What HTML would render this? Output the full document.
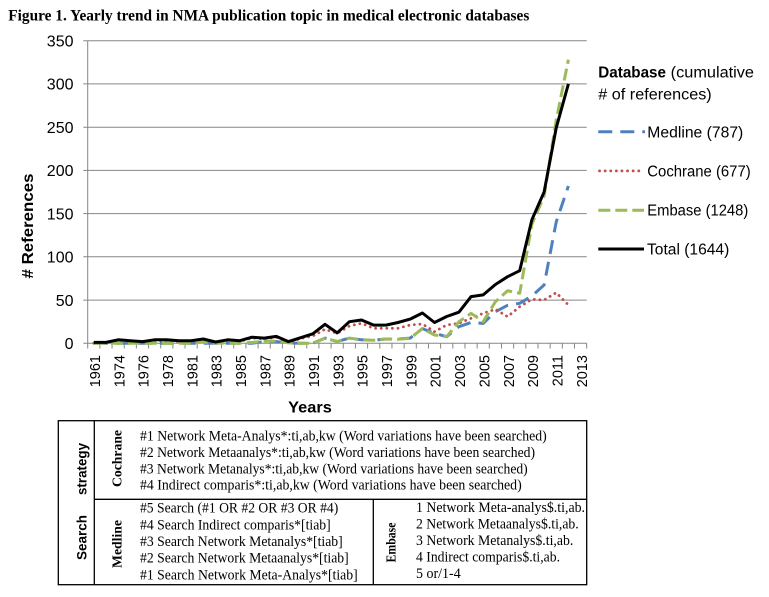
<!DOCTYPE html>
<html><head><meta charset="utf-8"><style>
html,body{margin:0;padding:0;background:#fff;}
svg{display:block;}
text{font-family:"Liberation Sans",sans-serif;}
.serif{font-family:"Liberation Serif",serif;}
</style></head><body>
<svg width="769" height="597" viewBox="0 0 769 597" xmlns="http://www.w3.org/2000/svg">
<rect width="769" height="597" fill="#fff"/>
<!-- Title -->
<text class="serif" x="8.3" y="20.5" font-size="16" font-weight="bold" textLength="521" lengthAdjust="spacingAndGlyphs" fill="#000">Figure 1. Yearly trend in NMA publication topic in medical electronic databases</text>

<!-- gridlines -->
<g stroke="#868686" stroke-width="1" fill="none">
<line x1="87.7" y1="40.7" x2="586.7" y2="40.7"/>
<line x1="87.7" y1="83.9" x2="586.7" y2="83.9"/>
<line x1="87.7" y1="127.2" x2="586.7" y2="127.2"/>
<line x1="87.7" y1="170.4" x2="586.7" y2="170.4"/>
<line x1="87.7" y1="213.6" x2="586.7" y2="213.6"/>
<line x1="87.7" y1="256.8" x2="586.7" y2="256.8"/>
<line x1="87.7" y1="300.1" x2="586.7" y2="300.1"/>
<!-- y ticks -->
<path d="M83.3 40.7H87.7M83.3 83.9H87.7M83.3 127.2H87.7M83.3 170.4H87.7M83.3 213.6H87.7M83.3 256.8H87.7M83.3 300.1H87.7M83.3 343.3H87.7"/>
<!-- axes -->
<line x1="87.7" y1="40.7" x2="87.7" y2="343.3"/>
<line x1="87.7" y1="343.3" x2="586.7" y2="343.3"/>
<!-- x ticks -->
<path d="M87.7 343.3V348.5M99.87 343.3V348.5M112.04 343.3V348.5M124.21 343.3V348.5M136.38 343.3V348.5M148.55 343.3V348.5M160.72 343.3V348.5M172.89 343.3V348.5M185.06 343.3V348.5M197.23 343.3V348.5M209.4 343.3V348.5M221.57 343.3V348.5M233.74 343.3V348.5M245.91 343.3V348.5M258.08 343.3V348.5M270.25 343.3V348.5M282.42 343.3V348.5M294.59 343.3V348.5M306.76 343.3V348.5M318.93 343.3V348.5M331.1 343.3V348.5M343.27 343.3V348.5M355.44 343.3V348.5M367.61 343.3V348.5M379.78 343.3V348.5M391.95 343.3V348.5M404.12 343.3V348.5M416.29 343.3V348.5M428.46 343.3V348.5M440.63 343.3V348.5M452.8 343.3V348.5M464.97 343.3V348.5M477.14 343.3V348.5M489.31 343.3V348.5M501.48 343.3V348.5M513.65 343.3V348.5M525.82 343.3V348.5M537.99 343.3V348.5M550.16 343.3V348.5M562.33 343.3V348.5M574.5 343.3V348.5M586.67 343.3V348.5"/>
</g>

<!-- y labels -->
<g font-size="16" text-anchor="end" fill="#000">
<text x="73.5" y="46.5">350</text>
<text x="73.5" y="89.7">300</text>
<text x="73.5" y="133">250</text>
<text x="73.5" y="176.2">200</text>
<text x="73.5" y="219.4">150</text>
<text x="73.5" y="262.6">100</text>
<text x="73.5" y="305.9">50</text>
<text x="73.5" y="349.1">0</text>
</g>

<!-- x labels -->
<g font-size="14.5" text-anchor="end" fill="#000">
<text transform="translate(100.0,355) rotate(-90)">1961</text>
<text transform="translate(124.3,355) rotate(-90)">1974</text>
<text transform="translate(148.7,355) rotate(-90)">1976</text>
<text transform="translate(173.0,355) rotate(-90)">1978</text>
<text transform="translate(197.3,355) rotate(-90)">1981</text>
<text transform="translate(221.7,355) rotate(-90)">1983</text>
<text transform="translate(246.0,355) rotate(-90)">1985</text>
<text transform="translate(270.4,355) rotate(-90)">1987</text>
<text transform="translate(294.7,355) rotate(-90)">1989</text>
<text transform="translate(319.0,355) rotate(-90)">1991</text>
<text transform="translate(343.4,355) rotate(-90)">1993</text>
<text transform="translate(367.7,355) rotate(-90)">1995</text>
<text transform="translate(392.1,355) rotate(-90)">1997</text>
<text transform="translate(416.4,355) rotate(-90)">1999</text>
<text transform="translate(440.7,355) rotate(-90)">2001</text>
<text transform="translate(465.1,355) rotate(-90)">2003</text>
<text transform="translate(489.4,355) rotate(-90)">2005</text>
<text transform="translate(513.8,355) rotate(-90)">2007</text>
<text transform="translate(538.1,355) rotate(-90)">2009</text>
<text transform="translate(562.4,355) rotate(-90)">2011</text>
<text transform="translate(586.8,355) rotate(-90)">2013</text>
</g>

<!-- axis titles -->
<text x="310" y="412.5" font-size="16" font-weight="bold" text-anchor="middle" textLength="43.7" lengthAdjust="spacingAndGlyphs">Years</text>
<text transform="translate(33,226) rotate(-90)" font-size="16" font-weight="bold" text-anchor="middle" textLength="105" lengthAdjust="spacingAndGlyphs"># References</text>

<!-- series -->
<g fill="none" stroke-linejoin="round">
<!-- Medline -->
<path stroke="#4F81BD" stroke-width="3" stroke-dasharray="14 8" d="M93.8,343.3 L106.0,343.3 L118.1,343.3 L130.3,343.3 L142.5,343.3 L154.6,343.3 L166.8,343.3 L179.0,343.3 L191.1,343.3 L203.3,343.3 L215.5,343.3 L227.7,343.3 L239.8,343.3 L252.0,343.3 L264.2,341.6 L276.3,341.6 L288.5,342.9 L300.7,343.3 L312.8,343.3 L325.0,338.1 L337.2,341.6 L349.4,338.1 L361.5,339.8 L373.7,340.3 L385.9,339.0 L398.0,339.0 L410.2,338.1 L422.4,328.6 L434.5,333.3 L446.7,336.7 L458.9,326.7 L471.1,322.5 L483.2,323.4 L495.4,311.7 L507.6,305.3 L519.7,303.3 L531.9,296.0 L544.1,285.0 L556.2,222.0 L568.4,186.0"/>
<!-- Cochrane -->
<path stroke="#C0504D" stroke-width="2.8" stroke-linecap="round" stroke-dasharray="0.1 5.5" d="M93.8,343.2 L106.0,343.2 L118.1,340.6 L130.3,341.5 L142.5,342.4 L154.6,340.6 L166.8,340.6 L179.0,341.5 L191.1,341.5 L203.3,339.8 L215.5,342.8 L227.7,340.6 L239.8,341.5 L252.0,338.0 L264.2,338.9 L276.3,337.2 L288.5,342.4 L300.7,338.5 L312.8,336.0 L325.0,329.3 L337.2,333.3 L349.4,326.0 L361.5,323.3 L373.7,328.3 L385.9,328.3 L398.0,328.3 L410.2,325.0 L422.4,324.0 L434.5,331.7 L446.7,325.0 L458.9,323.3 L471.1,318.3 L483.2,313.3 L495.4,309.3 L507.6,316.7 L519.7,306.7 L531.9,299.3 L544.1,300.0 L556.2,292.7 L568.4,305.0"/>
<!-- Embase -->
<path stroke="#9BBB59" stroke-width="3" stroke-dasharray="12 5" d="M93.8,343.3 L106.0,343.3 L118.1,343.3 L130.3,343.3 L142.5,343.3 L154.6,343.3 L166.8,343.3 L179.0,343.3 L191.1,343.3 L203.3,342.0 L215.5,343.3 L227.7,342.9 L239.8,343.3 L252.0,342.4 L264.2,341.1 L276.3,341.1 L288.5,342.9 L300.7,343.3 L312.8,343.3 L325.0,338.1 L337.2,341.6 L349.4,338.1 L361.5,339.8 L373.7,340.3 L385.9,339.0 L398.0,339.3 L410.2,338.3 L422.4,328.6 L434.5,335.0 L446.7,336.7 L458.9,321.7 L471.1,313.3 L483.2,321.7 L495.4,301.7 L507.6,290.7 L519.7,293.3 L531.9,224.0 L544.1,196.0 L556.2,120.2 L568.4,59.7"/>
<!-- Total -->
<path stroke="#000" stroke-width="3" d="M93.8,342.4 L106.0,342.4 L118.1,339.8 L130.3,340.7 L142.5,341.6 L154.6,339.8 L166.8,339.8 L179.0,340.7 L191.1,340.7 L203.3,339.0 L215.5,342.0 L227.7,339.8 L239.8,340.7 L252.0,337.2 L264.2,338.1 L276.3,336.4 L288.5,341.6 L300.7,337.7 L312.8,333.8 L325.0,324.3 L337.2,332.9 L349.4,321.7 L361.5,320.0 L373.7,325.1 L385.9,325.1 L398.0,322.5 L410.2,319.1 L422.4,313.0 L434.5,322.5 L446.7,316.5 L458.9,312.2 L471.1,296.6 L483.2,294.9 L495.4,284.5 L507.6,276.7 L519.7,270.7 L531.9,219.7 L544.1,192.0 L556.2,128.0 L568.4,83.9"/>
</g>

<!-- Legend -->
<g font-size="15.5" fill="#000">
<text x="598.3" y="77.3" font-weight="bold" textLength="67.7" lengthAdjust="spacingAndGlyphs">Database</text>
<text x="670.7" y="77.3" textLength="83.3" lengthAdjust="spacingAndGlyphs">(cumulative</text>
<text x="598.3" y="99.3" textLength="113.4" lengthAdjust="spacingAndGlyphs"># of references)</text>
<text x="647.3" y="137.3" textLength="96" lengthAdjust="spacingAndGlyphs">Medline (787)</text>
<text x="647.3" y="176.7" textLength="103.4" lengthAdjust="spacingAndGlyphs">Cochrane (677)</text>
<text x="647.3" y="215.3" textLength="101" lengthAdjust="spacingAndGlyphs">Embase (1248)</text>
<text x="647" y="254.3" textLength="82.3" lengthAdjust="spacingAndGlyphs">Total (1644)</text>
</g>
<line x1="598.3" y1="131.7" x2="645" y2="131.7" stroke="#4F81BD" stroke-width="3" stroke-dasharray="14 8"/>
<line x1="599.5" y1="170.9" x2="644" y2="170.9" stroke="#C0504D" stroke-width="2.8" stroke-linecap="round" stroke-dasharray="0.1 5.5"/>
<line x1="598.3" y1="210.2" x2="644" y2="210.2" stroke="#9BBB59" stroke-width="3" stroke-dasharray="12 5"/>
<line x1="598.3" y1="249" x2="644" y2="249" stroke="#000" stroke-width="3"/>

<!-- Table -->
<g stroke="#000" stroke-width="1.3" fill="none">
<rect x="58.3" y="420.7" width="528.4" height="164"/>
<line x1="94.3" y1="420.7" x2="94.3" y2="584.7"/>
<line x1="94.3" y1="499.3" x2="586.7" y2="499.3"/>
<line x1="373.3" y1="499.3" x2="373.3" y2="584.7"/>
</g>
<g font-size="14" font-weight="bold" text-anchor="middle" fill="#000">
<text transform="translate(86.6,537.5) rotate(-90)" textLength="45" lengthAdjust="spacingAndGlyphs">Search</text>
<text transform="translate(86.3,469) rotate(-90)" textLength="52" lengthAdjust="spacingAndGlyphs">strategy</text>
<text class="serif" transform="translate(121.5,458.5) rotate(-90)" textLength="57" lengthAdjust="spacingAndGlyphs">Cochrane</text>
<text class="serif" transform="translate(121.5,544) rotate(-90)" textLength="48" lengthAdjust="spacingAndGlyphs">Medline</text>
<text class="serif" transform="translate(395.3,542.5) rotate(-90)" textLength="40" lengthAdjust="spacingAndGlyphs">Embase</text>
</g>
<g class="serif" font-size="15" fill="#000" style="white-space:pre">
<text class="serif" x="140" y="440.7" textLength="406.7" lengthAdjust="spacingAndGlyphs">#1 Network Meta-Analys*:ti,ab,kw  (Word variations have been searched)</text>
<text class="serif" x="140" y="457" textLength="395" lengthAdjust="spacingAndGlyphs">#2 Network Metaanalys*:ti,ab,kw  (Word variations have been searched)</text>
<text class="serif" x="140" y="473.3" textLength="387.7" lengthAdjust="spacingAndGlyphs">#3 Network Metanalys*:ti,ab,kw  (Word variations have been searched)</text>
<text class="serif" x="140" y="489.7" textLength="381.7" lengthAdjust="spacingAndGlyphs">#4 Indirect comparis*:ti,ab,kw  (Word variations have been searched)</text>
<text class="serif" x="140" y="512.7" textLength="198.3" lengthAdjust="spacingAndGlyphs">#5 Search (#1 OR #2 OR #3 OR #4)</text>
<text class="serif" x="140" y="529.3" textLength="190.7" lengthAdjust="spacingAndGlyphs">#4 Search Indirect comparis*[tiab]</text>
<text class="serif" x="140" y="546" textLength="202.7" lengthAdjust="spacingAndGlyphs">#3 Search Network Metanalys*[tiab]</text>
<text class="serif" x="140" y="562.7" textLength="208.7" lengthAdjust="spacingAndGlyphs">#2 Search Network Metaanalys*[tiab]</text>
<text class="serif" x="140" y="579.3" textLength="217.7" lengthAdjust="spacingAndGlyphs">#1 Search Network Meta-Analys*[tiab]</text>
<text class="serif" x="416" y="512" textLength="169" lengthAdjust="spacingAndGlyphs">1 Network Meta-analys$.ti,ab.</text>
<text class="serif" x="416" y="528.5" textLength="162.7" lengthAdjust="spacingAndGlyphs">2 Network Metaanalys$.ti,ab.</text>
<text class="serif" x="416" y="545" textLength="157.3" lengthAdjust="spacingAndGlyphs">3 Network Metanalys$.ti,ab.</text>
<text class="serif" x="416" y="561.5" textLength="144" lengthAdjust="spacingAndGlyphs">4 Indirect comparis$.ti,ab.</text>
<text class="serif" x="416" y="578" textLength="44.7" lengthAdjust="spacingAndGlyphs">5 or/1-4</text>
</g>
</svg>
</body></html>
